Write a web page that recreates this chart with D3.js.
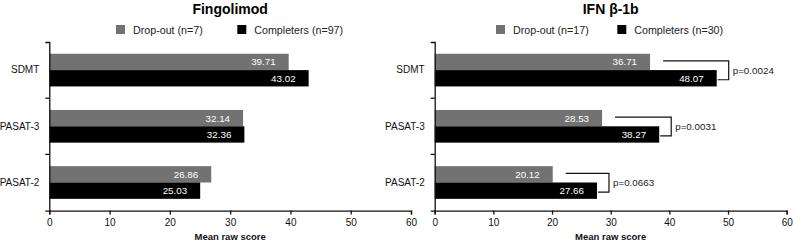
<!DOCTYPE html>
<html>
<head>
<meta charset="utf-8">
<script src="https://cdn.jsdelivr.net/npm/d3@7"></script>
<style>
  body { margin: 0; background: #fff; }
  svg { display: block; font-family: 'Liberation Sans', Arial, sans-serif; }
  .axis path, .axis line { stroke: #111; stroke-width: 1.3; }
  .axis text { fill: #111; }
</style>
</head>
<body>
<svg id="chart" width="793" height="244"></svg>
<script>
const categories = ['SDMT', 'PASAT-3', 'PASAT-2']
const groups = ['dropout', 'completers']
const xTicks = [0, 10, 20, 30, 40, 50, 60]

const fingTitle = 'Fingolimod'
const fingLegend = ['Drop-out (n=7)', 'Completers (n=97)']
const fingDropout = [39.71, 32.14, 26.86]
const fingCompleters = [43.02, 32.36, 25.03]

const ifnTitle = 'IFN β-1b'
const ifnLegend = ['Drop-out (n=17)', 'Completers (n=30)']
const ifnDropout = [36.71, 28.53, 20.12]
const ifnCompleters = [48.07, 38.27, 27.66]
const ifnPValues = ['p=0.0024', 'p=0.0031', 'p=0.0663']

const colors = {dropout: '#727272', completers: '#000000'}

function main() {
    let svg = d3.select('#chart')

    drawPanel(svg, {
        title: fingTitle, legend: fingLegend,
        dropout: fingDropout, completers: fingCompleters, pValues: null,
        left: 49.3, right: 411, legendX: [116, 237.3]
    })
    drawPanel(svg, {
        title: ifnTitle, legend: ifnLegend,
        dropout: ifnDropout, completers: ifnCompleters, pValues: ifnPValues,
        left: 434.7, right: 786.7, legendX: [496, 617.3]
    })
}

function drawPanel(svg, p) {
    let top = 42, bottom = 210.6
    let g = svg.append('g')

    let xScale = d3.scaleLinear().domain([0, 60]).range([p.left, p.right]),
        yScale = d3.scaleBand().domain(categories).range([top, bottom]).padding(0),
        subScale = d3.scaleBand().domain(groups).range([0, yScale.bandwidth()]).paddingInner(0).paddingOuter(0.72)

    let rows = categories.map((c, i) => ({cat: c, dropout: p.dropout[i], completers: p.completers[i], p: p.pValues ? p.pValues[i] : null}))

    // title
    g.append('text')
        .attr('x', (p.left + p.right) / 2)
        .attr('y', 14)
        .attr('text-anchor', 'middle')
        .attr('font-size', 14)
        .attr('font-weight', 'bold')
        .text(p.title)

    // legend
    groups.forEach((grp, i) => {
        g.append('rect')
            .attr('x', p.legendX[i])
            .attr('y', 25)
            .attr('width', 9)
            .attr('height', 9)
            .attr('fill', colors[grp])
        g.append('text')
            .attr('x', p.legendX[i] + 17)
            .attr('y', 33.8)
            .attr('font-size', 10.7)
            .attr('fill', '#222')
            .text(p.legend[i])
    })

    // bars
    let rowG = g.selectAll('.row')
        .data(rows)
        .enter()
        .append('g')
        .attr('transform', d => 'translate(0,' + yScale(d.cat) + ')')

    groups.forEach(grp => {
        rowG.append('rect')
            .attr('x', xScale(0))
            .attr('y', subScale(grp))
            .attr('width', d => xScale(d[grp]) - xScale(0))
            .attr('height', subScale.bandwidth())
            .attr('fill', colors[grp])

        rowG.append('text')
            .attr('x', d => xScale(d[grp]) - 13)
            .attr('y', subScale(grp) + subScale.bandwidth() / 2)
            .attr('dy', '0.35em')
            .attr('text-anchor', 'end')
            .attr('fill', '#fff')
            .attr('font-size', 9.8)
            .text(d => d3.format('.2f')(d[grp]))
    })

    // significance brackets
    if (p.pValues) {
        rowG.each(function (d) {
            let yTop = subScale('dropout') + subScale.bandwidth() / 2 - 1,
                yBot = subScale('completers') + subScale.bandwidth() / 2 + 1.5,
                xV = xScale(d.completers) + 12
            d3.select(this).append('path')
                .attr('d', 'M' + (xScale(d.dropout) + 13) + ',' + yTop
                    + 'H' + xV + 'V' + yBot + 'H' + (xScale(d.completers) + 1))
                .attr('fill', 'none')
                .attr('stroke', '#111')
                .attr('stroke-width', 1.2)
            d3.select(this).append('text')
                .attr('x', xV + 4)
                .attr('y', (yTop + yBot) / 2)
                .attr('dy', '0.35em')
                .attr('font-size', 9.8)
                .attr('fill', '#222')
                .text(d.p)
        })
    }

    // x axis
    g.append('g')
        .attr('class', 'axis')
        .attr('transform', 'translate(0,' + bottom + ')')
        .call(d3.axisBottom(xScale).tickValues(xTicks).tickSize(4).tickSizeOuter(4).tickPadding(4))
        .call(a => a.selectAll('text').attr('font-size', 10))
        .append('text')
        .attr('x', (p.left + p.right) / 2)
        .attr('y', 29.5)
        .attr('text-anchor', 'middle')
        .attr('font-size', 9.5)
        .attr('font-weight', 'bold')
        .attr('fill', '#111')
        .text('Mean raw score')

    // y axis: labels centred on bands, ticks on band edges
    let yAxis = g.append('g')
        .attr('class', 'axis')
        .attr('transform', 'translate(' + p.left + ',0)')
        .call(d3.axisLeft(yScale).tickSize(0).tickSizeOuter(4).tickPadding(10))
    yAxis.selectAll('text').attr('font-size', 10)
    yAxis.selectAll('.edge')
        .data(categories.slice(1))
        .enter()
        .append('line')
        .attr('class', 'edge')
        .attr('x1', -4)
        .attr('x2', 0)
        .attr('y1', c => yScale(c))
        .attr('y2', c => yScale(c))
}

main()
</script>
</body>
</html>
